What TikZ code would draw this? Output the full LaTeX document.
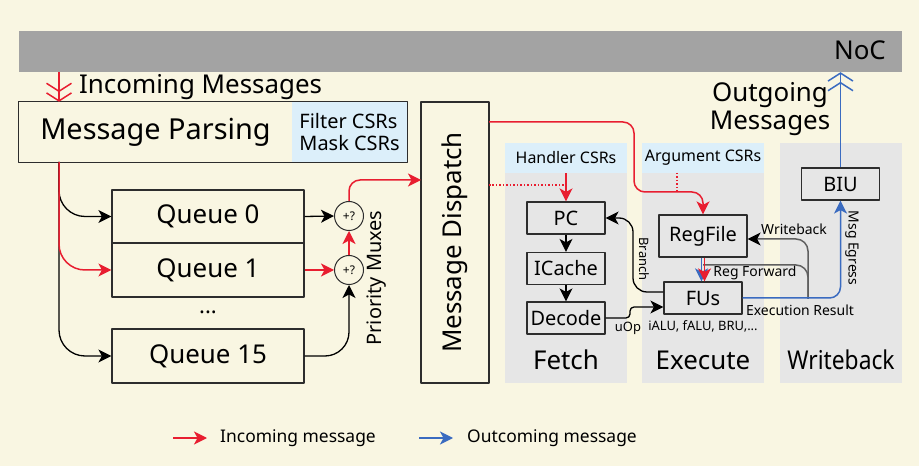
\documentclass[tikz,border=0pt]{standalone}
\usepackage{fontspec}
\setmainfont{Noto Sans}
\usetikzlibrary{arrows.meta}
\definecolor{bgcream}{RGB}{249,246,226}
\definecolor{nocgray}{RGB}{163,163,163}
\definecolor{panelgray}{RGB}{230,230,230}
\definecolor{csrblue}{RGB}{220,239,250}
\definecolor{msgred}{RGB}{232,30,48}
\definecolor{msgblue}{RGB}{58,107,192}
\definecolor{boxline}{RGB}{45,45,45}
\definecolor{fwdgray}{RGB}{95,95,95}
\newcommand\fsize[1]{\fontsize{#1}{#1}\selectfont}
\begin{document}
\begin{tikzpicture}[x=1bp,y=-1bp,line join=round,
  >={Stealth[length=13bp,width=13bp,inset=3.5bp]},
  every node/.style={inner sep=0pt},
  box/.style={draw=boxline,line width=1.2bp},
  wire/.style={line width=1.3bp,black},
  redwire/.style={line width=1.5bp,msgred},
  bluewire/.style={line width=1.5bp,msgblue},
  fwdwire/.style={line width=1.5bp,fwdgray},
  panel/.style={fill=panelgray,minimum width=122bp,minimum height=240bp},
  csrbox/.style={fill=csrblue,minimum width=122bp,minimum height=30bp},
  queue/.style={box,minimum width=192bp,minimum height=54bp,font=\fsize{26}},
  stage/.style={box,fill=panelgray,minimum width=78bp,minimum height=32bp,font=\fsize{20}},
  mux/.style={circle,draw=boxline,line width=1bp,fill=bgcream,minimum size=29bp,font=\fsize{12}},
  dbarb/.style={-{Straight Barb[length=8bp,width=25bp]Straight Barb[length=8bp,width=25bp]}},
]
%%
\fill[bgcream] (0,0) rectangle (919,466);
\useasboundingbox (0,0) rectangle (919,466);
\node (noc) at (460.5,51.5) [fill=nocgray,minimum width=883bp,minimum height=41bp] {};
  \node (noclbl) at (886,50) [anchor=east,font=\fsize{26}] {NoC};
  \node (incoming) at (79,87) [anchor=west,font=\fsize{26}] {Incoming Messages};
  \node (csrs) at (349.5,132) [fill=csrblue,minimum width=115bp,minimum height=60bp,align=left,font=\fsize{20}] {Filter CSRs\\[3bp]Mask CSRs};
  \node (parse) at (155.5,132) [minimum width=273bp,minimum height=60bp,font=\fsize{29}] {Message Parsing};
  \draw [box] (parse.north west) rectangle (csrs.south east);
  \coordinate (trunk) at (59,162);
  \node (q0) at (208,216.5) [queue,minimum height=53bp] {Queue 0};
  \node (q1) at (208,270) [queue] {Queue 1};
  \node (dots) at (208,312) [font=\fsize{22}] {...};
  \node (q15) at (208,356) [queue] {Queue 15};
  \node (m0) at (349,216) [mux] {+?};
  \node (m1) at (349,270) [mux] {+?};
  \node (prio) at (377,278) [rotate=90,font=\fsize{20}] {Priority Muxes};
  \node (dispatch) at (455,242.5) [box,minimum width=68bp,minimum height=281bp] {};
  \node (displbl) at (455,242.5) [rotate=90,font=\fsize{26}] {Message Dispatch};
%
\node (fetchp) at (566,263) [panel] {};
  \node (execp) at (703,263) [panel] {};
  \node (wbp) at (841,263) [panel] {};
  \node (hcsr) at (566,158) [csrbox,font=\fsize{16}] {Handler CSRs};
  \node (acsr) at (703,158) [csrbox,font=\fsize{16}] {Argument CSRs};
  \node (fetchlbl) at (566,360) [font=\fsize{26}] {Fetch};
  \node (execlbl) at (703,360) [font=\fsize{26}] {Execute};
  \node (wblbl) at (841,360) [font=\fsize{26}] {\scalebox{0.88}[1]{Writeback}};
  \node (pc) at (566,218) [stage] {PC};
  \node (icache) at (566,268.5) [stage] {ICache};
  \node (decode) at (566,318) [stage] {Decode};
  \node (regfile) at (703,236) [stage,minimum width=88bp,minimum height=42bp] {RegFile};
  \node (fus) at (703,298) [stage] {FUs};
  \node (fulist) at (703,326) [font=\fsize{13}] {iALU, fALU, BRU,...};
  \node (biu) at (840.5,184) [stage] {BIU};
  \node (outgoing) at (770,109) [align=center,font=\fsize{26}] {Outgoing\\[2bp]Messages};
  \node (branchlbl) at (644,259) [rotate=-90,font=\fsize{13}] {Branch};
  \node (uoplbl) at (628,328) [font=\fsize{13}] {uOp};
  \node (wblabel) at (794,229) [font=\fsize{14}] {Writeback};
  \node (fwdlbl) at (755,273) [font=\fsize{14}] {Reg Forward};
  \node (exreslbl) at (800,310) [font=\fsize{14}] {Execution Result};
  \node (egresslbl) at (852,248) [rotate=-90,font=\fsize{14}] {Msg Egress};
%
\draw [redwire,dbarb] (noc.south -| trunk) -- (parse.north -| trunk);
  \draw [wire,->,rounded corners=26bp] (trunk) |- (q0.west);
  \draw [wire,->,rounded corners=26bp] (trunk) |- (q15.west);
  \draw [redwire,->,rounded corners=26bp] (trunk) |- (q1.west);
  \draw [wire,->] (q0.east) -- (m0.west);
  \draw [redwire,->] (q1.east) -- (m1.west);
  \draw [redwire,->] (m1.north) -- (m0.south);
  \draw [wire,->,rounded corners=24bp] (q15.east) -| (m1.south);
  \coordinate (dispin) at (421,180);
  \draw [redwire,->,rounded corners=11bp] (m0.north) |- (dispin);
  \coordinate (dout1) at (489,122);
  \coordinate (dout2) at (489,185);
  \draw [redwire,->,rounded corners=11bp] (dout1) -- (634,122) -- (634,192) -- (703,192) -- (regfile.north);
  \draw [redwire,dotted] (dout2) -- (566,185);
  \draw [redwire,dotted] (677,173) -- (677,192);
  \draw [redwire,->] (hcsr.south) -- (pc.north);
  \draw [wire,->] (pc.south) -- (icache.north);
  \draw [wire,->] (icache.south) -- (decode.north);
  \draw [wire,->,rounded corners=14bp] ([yshift=6bp]fus.west) -| (633,250) |- (pc.east);
  \draw [wire,->,rounded corners=4bp] (decode.east) -- (630,318) |- ([yshift=-9bp]fus.west);
  \coordinate (exres) at (808,299);
  \draw [fwdwire,rounded corners=12bp] (exres) |- (703,265);
  \draw [fwdwire,-{Stealth[length=13bp,width=13bp,inset=3.5bp,black]},rounded corners=12bp] (exres) |- ([yshift=-3bp]regfile.east);
  \draw [bluewire,->] ([xshift=-1.5bp]regfile.south) -- ([xshift=-1.5bp]fus.north);
  \draw [redwire,->] ([xshift=1.5bp]regfile.south) -- ([xshift=1.5bp]fus.north);
  \draw [bluewire,->,rounded corners=11bp] (fus.east) -| (biu.south);
  \draw [bluewire,dbarb] (biu.north) -- (biu.north |- noc.south);
%
\node (lgin) at (220,438) [anchor=west,font=\fsize{17.5}] {Incoming message};
  \node (lgout) at (467,438) [anchor=west,font=\fsize{17.5}] {Outcoming message};
  \draw [redwire,->] ([xshift=-47bp]lgin.west) -- ([xshift=-13bp]lgin.west);
  \draw [bluewire,->] ([xshift=-48bp]lgout.west) -- ([xshift=-14bp]lgout.west);
%
\end{tikzpicture}
\end{document}
